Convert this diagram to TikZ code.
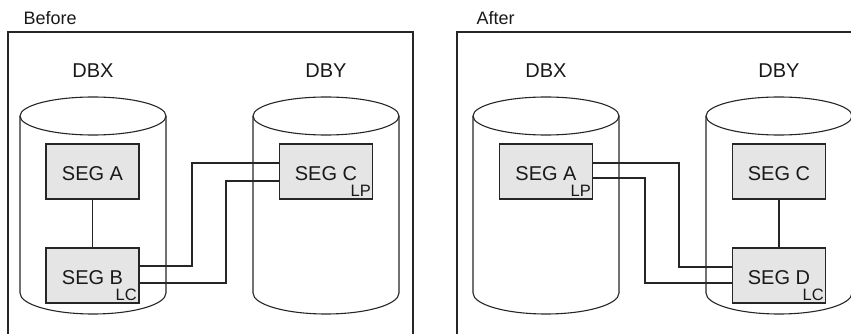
\documentclass[tikz,border=0pt]{standalone}
\usepackage{fontspec}
\setmainfont{Liberation Sans}
\begin{document}
\begin{tikzpicture}[x=1pt,y=-1pt,
  ln/.style={draw=black!85, line width=1.1pt},
  seg/.style={ln, fill=black!10, minimum width=93pt, minimum height=55pt, inner sep=0pt},
  big/.style={font=\fontsize{20}{20}\selectfont, text=black!90},
  ttl/.style={font=\fontsize{18}{18}\selectfont, text=black!90, anchor=base west},
  tag/.style={font=\fontsize{16.5}{16.5}\selectfont, text=black!90, anchor=base east, inner sep=0pt},
  cyl/.style={ln, fill=white}]
\useasboundingbox (0,0) rectangle (851,334);
\begin{scope}
\clip (0,0) rectangle (851,334);
% frames
\draw[ln] (8,340) -- (8,32) -- (413,32) -- (413,340);
\draw[ln] (457,340) -- (457,32) -- (870,32) -- (870,340);
\node[ttl] (tb) at (20,25) {Before};
\node[ttl] (ta) at (473,25) {After};
% cylinders
\newcommand\mycyl[1]{%
  \draw[cyl] (#1,116) -- (#1,293) arc[start angle=180,end angle=360,x radius=73,y radius=-21] -- (#1+146,116) arc[start angle=0,end angle=180,x radius=73,y radius=-19] -- cycle;
  \draw[ln] (#1,116) arc[start angle=180,end angle=360,x radius=73,y radius=-19];}
\mycyl{20}
\mycyl{253}
\mycyl{473}
\mycyl{706}
\node[big, anchor=base] (bx) at (93,78) {DBX};
\node[big, anchor=base] (by) at (326,78) {DBY};
\node[big, anchor=base] (ax) at (546,78) {DBX};
\node[big, anchor=base] (ay) at (779,78) {DBY};
% Before boxes
\node[seg] (ba) at (92.5,171.5) {};
\node[big, anchor=base] at (92.5,180) {SEG A};
\node[seg] (bb) at (92.5,275.5) {};
\node[big, anchor=base] at (92.5,284) {SEG B};
\node[tag] (blc) at (137,300) {LC};
\node[seg] (bc) at (326,171.5) {};
\node[big, anchor=base] at (326,180) {SEG C};
\node[tag] (blp) at (371,196) {LP};
\draw[ln] (ba.south) -- (bb.north);
\coordinate (b1) at (bb.east |- 0,266);
\coordinate (b2) at (bb.east |- 0,283);
\coordinate (c1) at (bc.west |- 0,163);
\coordinate (c2) at (bc.west |- 0,181);
\draw[ln] (b1) -- (192,266) -- (192,163) -- (c1);
\draw[ln] (b2) -- (226,283) -- (226,181) -- (c2);
% After boxes
\node[seg] (aa) at (546,171.5) {};
\node[big, anchor=base] at (546,180) {SEG A};
\node[tag] (alp) at (591,196) {LP};
\node[seg] (ac) at (779,171.5) {};
\node[big, anchor=base] at (779,180) {SEG C};
\node[seg] (ad) at (779,275.5) {};
\node[big, anchor=base] at (779,284) {SEG D};
\node[tag] (alc) at (824,300) {LC};
\draw[ln] (ac.south) -- (ad.north);
\coordinate (a1) at (aa.east |- 0,163);
\coordinate (a2) at (aa.east |- 0,178);
\coordinate (d1) at (ad.west |- 0,267);
\coordinate (d2) at (ad.west |- 0,283);
\draw[ln] (a1) -- (679,163) -- (679,267) -- (d1);
\draw[ln] (a2) -- (645,178) -- (645,283) -- (d2);
\end{scope}
\end{tikzpicture}
\end{document}
